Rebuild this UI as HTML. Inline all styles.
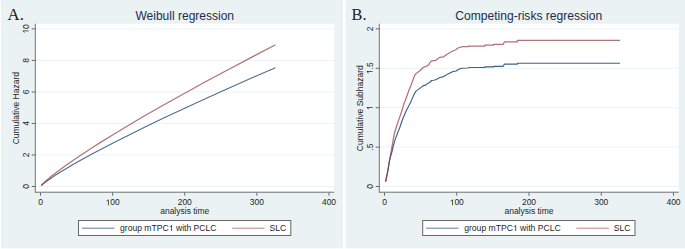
<!DOCTYPE html>
<html><head><meta charset="utf-8"><style>
html,body{margin:0;padding:0;background:#fff;}
svg{display:block;font-family:"Liberation Sans",sans-serif;}
</style></head><body>
<svg width="685" height="249" viewBox="0 0 685 249">
<rect x="0" y="0" width="685" height="249" fill="#fff"/>
<rect x="1" y="0" width="342" height="248.3" fill="#eaf2f3"/>
<rect x="345.5" y="0" width="339.5" height="248.3" fill="#eaf2f3"/>
<rect x="35" y="23.7" width="299.30" height="168" fill="#fff"/>
<line x1="36" x2="334.30" y1="186.50" y2="186.50" stroke="#edf3f4" stroke-width="1"/>
<line x1="36" x2="334.30" y1="154.98" y2="154.98" stroke="#edf3f4" stroke-width="1"/>
<line x1="36" x2="334.30" y1="123.46" y2="123.46" stroke="#edf3f4" stroke-width="1"/>
<line x1="36" x2="334.30" y1="91.94" y2="91.94" stroke="#edf3f4" stroke-width="1"/>
<line x1="36" x2="334.30" y1="60.42" y2="60.42" stroke="#edf3f4" stroke-width="1"/>
<line x1="36" x2="334.30" y1="28.90" y2="28.90" stroke="#edf3f4" stroke-width="1"/>
<path d="M41.22,185.66 L41.58,185.31 L41.94,184.97 L42.66,184.34 L43.38,183.74 L44.83,182.59 L46.27,181.51 L48.43,179.94 L51.32,177.95 L54.92,175.57 L59.25,172.82 L64.30,169.72 L70.07,166.30 L76.56,162.57 L83.78,158.53 L92.43,153.81 L102.53,148.45 L112.62,143.21 L127.05,135.91 L145.08,127.03 L163.11,118.36 L184.75,108.20 L206.39,98.27 L228.02,88.52 L253.27,77.34 L275.48,67.67" fill="none" stroke="#1a476f" stroke-width="1.1" stroke-linejoin="round" opacity="0.78"/>
<path d="M41.22,185.49 L41.58,185.08 L41.94,184.68 L42.66,183.93 L43.38,183.21 L44.83,181.84 L46.27,180.54 L48.43,178.68 L51.32,176.31 L54.92,173.46 L59.25,170.19 L64.30,166.50 L70.07,162.42 L76.56,157.97 L83.78,153.15 L92.43,147.53 L102.53,141.13 L112.62,134.89 L127.05,126.18 L145.08,115.59 L163.11,105.26 L184.75,93.15 L206.39,81.30 L228.02,69.67 L253.27,56.35 L275.48,44.82" fill="none" stroke="#90353b" stroke-width="1.2" stroke-linejoin="round" opacity="0.7"/>
<rect x="34" y="23.7" width="1" height="169.3" fill="#d2d8d9"/>
<rect x="35" y="23.7" width="1" height="169.3" fill="#8d8f90"/>
<rect x="36" y="191" width="298.20" height="1" fill="#d3d5d5"/>
<rect x="35" y="192" width="299.20" height="1" fill="#93999a"/>
<line x1="31.7" x2="35.5" y1="186.50" y2="186.50" stroke="#686868" stroke-width="1"/>
<text transform="translate(28.60,186.50) rotate(-90)" text-anchor="middle" font-size="8.5" fill="#262626">0</text>
<line x1="31.7" x2="35.5" y1="154.98" y2="154.98" stroke="#686868" stroke-width="1"/>
<text transform="translate(28.60,154.98) rotate(-90)" text-anchor="middle" font-size="8.5" fill="#262626">2</text>
<line x1="31.7" x2="35.5" y1="123.46" y2="123.46" stroke="#686868" stroke-width="1"/>
<text transform="translate(28.60,123.46) rotate(-90)" text-anchor="middle" font-size="8.5" fill="#262626">4</text>
<line x1="31.7" x2="35.5" y1="91.94" y2="91.94" stroke="#686868" stroke-width="1"/>
<text transform="translate(28.60,91.94) rotate(-90)" text-anchor="middle" font-size="8.5" fill="#262626">6</text>
<line x1="31.7" x2="35.5" y1="60.42" y2="60.42" stroke="#686868" stroke-width="1"/>
<text transform="translate(28.60,60.42) rotate(-90)" text-anchor="middle" font-size="8.5" fill="#262626">8</text>
<line x1="31.7" x2="35.5" y1="28.90" y2="28.90" stroke="#686868" stroke-width="1"/>
<g transform="translate(28.60,28.90) rotate(-90)"><path transform="translate(-4.727,0) scale(0.004150,-0.004150)" d="M763 0H583V1147Q518 1085 412.5 1023T223 930V1104Q374 1175 487 1276T647 1409H763V0Z" fill="#262626"/><text x="0.000" y="0" font-size="8.5" fill="#262626" xml:space="preserve">0</text></g>
<line x1="40.50" x2="40.50" y1="192.5" y2="195.7" stroke="#686868" stroke-width="1"/>
<text x="40.50" y="205.30" text-anchor="middle" font-size="8.5" fill="#262626">0</text>
<line x1="112.62" x2="112.62" y1="192.5" y2="195.7" stroke="#686868" stroke-width="1"/>
<g transform="translate(112.62,205.30)"><path transform="translate(-7.091,0) scale(0.004150,-0.004150)" d="M763 0H583V1147Q518 1085 412.5 1023T223 930V1104Q374 1175 487 1276T647 1409H763V0Z" fill="#262626"/><text x="-2.364" y="0" font-size="8.5" fill="#262626" xml:space="preserve">00</text></g>
<line x1="184.75" x2="184.75" y1="192.5" y2="195.7" stroke="#686868" stroke-width="1"/>
<text x="184.75" y="205.30" text-anchor="middle" font-size="8.5" fill="#262626">200</text>
<line x1="256.88" x2="256.88" y1="192.5" y2="195.7" stroke="#686868" stroke-width="1"/>
<text x="256.88" y="205.30" text-anchor="middle" font-size="8.5" fill="#262626">300</text>
<line x1="329.00" x2="329.00" y1="192.5" y2="195.7" stroke="#686868" stroke-width="1"/>
<text x="329.00" y="205.30" text-anchor="middle" font-size="8.5" fill="#262626">400</text>
<text x="184.75" y="213.7" text-anchor="middle" font-size="8.5" fill="#262626">analysis time</text>
<text transform="translate(18.9,108.2) rotate(-90)" text-anchor="middle" font-size="8.5" fill="#262626">Cumulative Hazard</text>
<text x="184.75" y="20.2" text-anchor="middle" font-size="12.03" fill="#222c50">Weibull regression</text>
<rect x="78.5" y="220.5" width="212.3" height="15" fill="#fff" stroke="#676767" stroke-width="1"/>
<line x1="82" x2="114.4" y1="228.2" y2="228.2" stroke="#1a476f" stroke-width="1" opacity="0.7"/>
<g transform="translate(120.00,231.10)"><text x="0.000" y="0" font-size="8.6" fill="#262626" xml:space="preserve">group mTPC</text><path transform="translate(48.749,0) scale(0.004199,-0.004199)" d="M763 0H583V1147Q518 1085 412.5 1023T223 930V1104Q374 1175 487 1276T647 1409H763V0Z" fill="#262626"/><text x="53.532" y="0" font-size="8.6" fill="#262626" xml:space="preserve"> with PCLC</text></g>
<line x1="232.1" x2="264.7" y1="228.2" y2="228.2" stroke="#90353b" stroke-width="1" opacity="0.6"/>
<text x="269.6" y="231.1" font-size="8.6" fill="#262626">SLC</text>
<rect x="379" y="23.7" width="299.80" height="168" fill="#fff"/>
<line x1="380" x2="678.80" y1="186.50" y2="186.50" stroke="#edf3f4" stroke-width="1"/>
<line x1="380" x2="678.80" y1="147.10" y2="147.10" stroke="#edf3f4" stroke-width="1"/>
<line x1="380" x2="678.80" y1="107.70" y2="107.70" stroke="#edf3f4" stroke-width="1"/>
<line x1="380" x2="678.80" y1="68.30" y2="68.30" stroke="#edf3f4" stroke-width="1"/>
<line x1="380" x2="678.80" y1="28.90" y2="28.90" stroke="#edf3f4" stroke-width="1"/>
<path d="M385.60,181.70 L387.60,172.10 L389.60,160.30 L392.40,150.00 L393.20,146.50 L395.00,139.90 L397.50,133.30 L399.90,127.20 L402.30,120.00 L406.00,111.30 L409.10,105.20 L411.50,100.40 L413.50,95.60 L415.00,92.60 L416.00,91.10 L418.10,89.60 L420.10,88.10 L422.10,86.60 L423.60,85.60 L425.60,85.10 L427.60,83.50 L429.60,82.50 L431.60,80.50 L433.60,80.20 L435.70,79.80 L437.70,78.80 L439.70,77.50 L443.00,76.90 L444.50,75.90 L446.00,75.30 L448.00,73.90 L450.00,72.90 L452.00,71.90 L454.00,71.30 L456.00,71.10 L458.00,69.80 L460.00,68.80 L462.00,68.30 L468.10,68.00 L469.10,67.50 L484.80,67.50 L484.80,66.90 L493.60,66.90 L493.60,66.30 L503.00,66.30 L504.50,64.20 L517.30,64.20 L517.30,63.20 L620.00,63.20" fill="none" stroke="#1a476f" stroke-width="1.15" stroke-linejoin="round" opacity="0.85"/>
<path d="M385.60,181.70 L387.60,172.10 L389.50,160.50 L391.40,150.00 L392.00,146.50 L393.20,139.90 L394.40,133.30 L396.30,127.20 L397.00,125.00 L399.40,117.90 L401.90,110.70 L403.70,104.60 L405.50,99.80 L407.30,95.00 L408.80,90.50 L410.50,86.60 L412.50,81.10 L414.50,76.10 L415.50,74.00 L417.60,72.50 L419.60,71.00 L421.60,69.00 L423.10,67.50 L424.60,66.80 L426.60,66.20 L428.60,64.80 L430.00,62.60 L431.50,60.90 L433.00,60.60 L435.50,60.60 L437.50,59.10 L439.00,57.60 L441.00,57.20 L443.00,57.20 L444.60,56.00 L446.00,55.00 L448.00,53.80 L450.00,52.50 L452.00,51.50 L454.00,50.50 L455.60,50.00 L456.50,49.10 L458.00,48.00 L459.50,47.50 L461.00,47.20 L462.50,46.50 L468.30,46.50 L468.30,46.00 L484.80,46.00 L484.80,45.20 L493.60,45.20 L493.60,44.30 L503.00,44.30 L504.50,41.90 L517.30,41.90 L517.30,40.40 L620.00,40.40" fill="none" stroke="#90353b" stroke-width="1.25" stroke-linejoin="round" opacity="0.7"/>
<rect x="378" y="23.7" width="1" height="169.3" fill="#d2d8d9"/>
<rect x="379" y="23.7" width="1" height="169.3" fill="#8d8f90"/>
<rect x="380" y="191" width="298.70" height="1" fill="#d3d5d5"/>
<rect x="379" y="192" width="299.70" height="1" fill="#93999a"/>
<line x1="375.7" x2="379.5" y1="186.50" y2="186.50" stroke="#686868" stroke-width="1"/>
<text transform="translate(372.60,186.50) rotate(-90)" text-anchor="middle" font-size="8.5" fill="#262626">0</text>
<line x1="375.7" x2="379.5" y1="147.10" y2="147.10" stroke="#686868" stroke-width="1"/>
<text transform="translate(372.60,147.10) rotate(-90)" text-anchor="middle" font-size="8.5" fill="#262626">.5</text>
<line x1="375.7" x2="379.5" y1="107.70" y2="107.70" stroke="#686868" stroke-width="1"/>
<g transform="translate(372.60,107.70) rotate(-90)"><path transform="translate(-2.364,0) scale(0.004150,-0.004150)" d="M763 0H583V1147Q518 1085 412.5 1023T223 930V1104Q374 1175 487 1276T647 1409H763V0Z" fill="#262626"/></g>
<line x1="375.7" x2="379.5" y1="68.30" y2="68.30" stroke="#686868" stroke-width="1"/>
<g transform="translate(372.60,68.30) rotate(-90)"><path transform="translate(-5.908,0) scale(0.004150,-0.004150)" d="M763 0H583V1147Q518 1085 412.5 1023T223 930V1104Q374 1175 487 1276T647 1409H763V0Z" fill="#262626"/><text x="-1.181" y="0" font-size="8.5" fill="#262626" xml:space="preserve">.5</text></g>
<line x1="375.7" x2="379.5" y1="28.90" y2="28.90" stroke="#686868" stroke-width="1"/>
<text transform="translate(372.60,28.90) rotate(-90)" text-anchor="middle" font-size="8.5" fill="#262626">2</text>
<line x1="384.50" x2="384.50" y1="192.5" y2="195.7" stroke="#686868" stroke-width="1"/>
<text x="384.50" y="205.30" text-anchor="middle" font-size="8.5" fill="#262626">0</text>
<line x1="456.75" x2="456.75" y1="192.5" y2="195.7" stroke="#686868" stroke-width="1"/>
<g transform="translate(456.75,205.30)"><path transform="translate(-7.091,0) scale(0.004150,-0.004150)" d="M763 0H583V1147Q518 1085 412.5 1023T223 930V1104Q374 1175 487 1276T647 1409H763V0Z" fill="#262626"/><text x="-2.364" y="0" font-size="8.5" fill="#262626" xml:space="preserve">00</text></g>
<line x1="529.00" x2="529.00" y1="192.5" y2="195.7" stroke="#686868" stroke-width="1"/>
<text x="529.00" y="205.30" text-anchor="middle" font-size="8.5" fill="#262626">200</text>
<line x1="601.25" x2="601.25" y1="192.5" y2="195.7" stroke="#686868" stroke-width="1"/>
<text x="601.25" y="205.30" text-anchor="middle" font-size="8.5" fill="#262626">300</text>
<line x1="673.50" x2="673.50" y1="192.5" y2="195.7" stroke="#686868" stroke-width="1"/>
<text x="673.50" y="205.30" text-anchor="middle" font-size="8.5" fill="#262626">400</text>
<text x="529.00" y="213.7" text-anchor="middle" font-size="8.5" fill="#262626">analysis time</text>
<text transform="translate(362.9,108.2) rotate(-90)" text-anchor="middle" font-size="8.5" fill="#262626">Cumulative Subhazard</text>
<text x="528.75" y="20.2" text-anchor="middle" font-size="12.08" fill="#222c50">Competing-risks regression</text>
<rect x="422.7" y="220.5" width="212.3" height="15" fill="#fff" stroke="#676767" stroke-width="1"/>
<line x1="426.2" x2="458.6" y1="228.2" y2="228.2" stroke="#1a476f" stroke-width="1" opacity="0.7"/>
<g transform="translate(464.20,231.10)"><text x="0.000" y="0" font-size="8.6" fill="#262626" xml:space="preserve">group mTPC</text><path transform="translate(48.749,0) scale(0.004199,-0.004199)" d="M763 0H583V1147Q518 1085 412.5 1023T223 930V1104Q374 1175 487 1276T647 1409H763V0Z" fill="#262626"/><text x="53.532" y="0" font-size="8.6" fill="#262626" xml:space="preserve"> with PCLC</text></g>
<line x1="576.3" x2="608.9" y1="228.2" y2="228.2" stroke="#90353b" stroke-width="1" opacity="0.6"/>
<text x="613.8" y="231.1" font-size="8.6" fill="#262626">SLC</text>
<text transform="translate(7.6,19.5) scale(0.975,1.01)" font-family="Liberation Serif" font-size="17.2" fill="#1c1c1c">A.</text>
<text transform="translate(351.5,19.75) scale(0.95,1.01)" font-family="Liberation Serif" font-size="17.2" fill="#1c1c1c">B.</text>
</svg>
</body></html>
